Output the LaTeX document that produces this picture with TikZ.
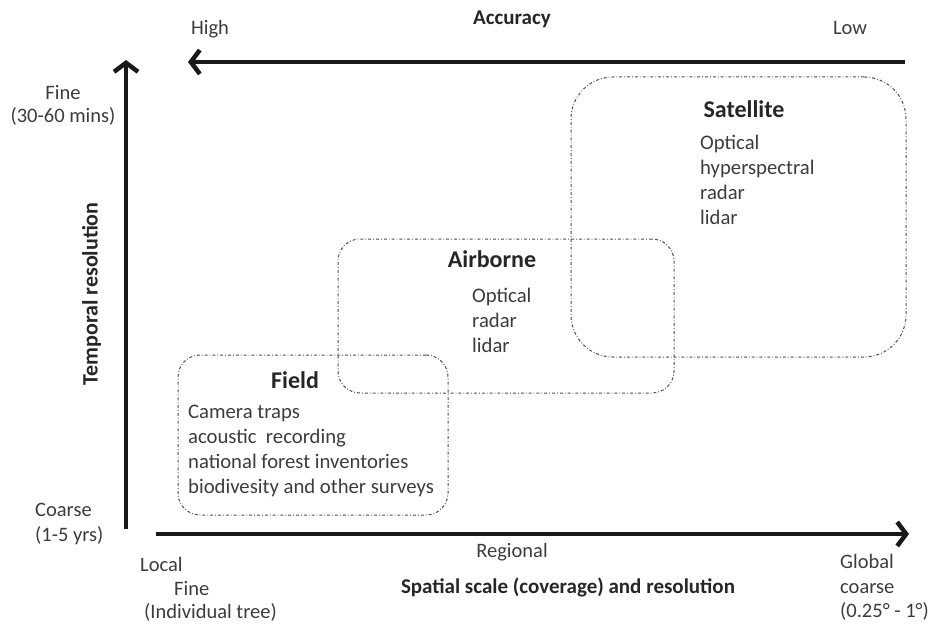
\documentclass[tikz,border=0pt]{standalone}
\usepackage{fontspec}
\setmainfont{Carlito}
\usetikzlibrary{arrows.meta}
\definecolor{txt}{HTML}{3C3C3C}
\definecolor{boxline}{HTML}{505050}
\tikzset{
  lbl/.style={inner sep=0pt, text=txt, font=\fontsize{20.5}{24}\selectfont, text height=16pt, text depth=3pt},
  item/.style={inner sep=0pt, text=txt, font=\fontsize{20.7}{24}\selectfont, text height=16pt, text depth=3pt, anchor=west},
  head/.style={inner sep=0pt, text=black!85, font=\bfseries\fontsize{24}{28}\selectfont, text height=18pt, text depth=3pt},
  axtitle/.style={inner sep=0pt, text=black!85, font=\bfseries\fontsize{21}{24}\selectfont, text height=16pt, text depth=3pt},
  bigarrow/.style={line width=4.5pt, black!90, -{Straight Barb[length=9pt,width=24pt,line width=4.5pt]}},
  zone/.style={draw=boxline, line width=1pt, dash pattern=on 3pt off 2pt on 0.8pt off 2pt, minimum width=#1, inner sep=0pt},
}
\begin{document}
\begin{tikzpicture}[x=1pt,y=1pt]
\useasboundingbox (0,0) rectangle (932,-626);
% zones
\node[zone=335pt, minimum height=280pt, rounded corners=42pt] (sat) at (738.5,-217) {};
\node[zone=336pt, minimum height=154pt, rounded corners=22pt] (air) at (506,-316) {};
\node[zone=270pt, minimum height=160pt, rounded corners=22pt] (fld) at (313,-435) {};
% axes
\coordinate (accS) at (905,-62);
\coordinate (accE) at (188,-62);
\draw[bigarrow] (accS) -- (accE);
\coordinate (tS) at (126,-529);
\coordinate (tE) at (126,-60);
\draw[bigarrow] (tS) -- (tE);
\coordinate (sS) at (156,-534);
\coordinate (sE) at (909,-534);
\draw[bigarrow] (sS) -- (sE);
% top labels
\node[lbl] (high) at (210,-28) {High};
\node[axtitle] (acc) at (512,-18) {Accuracy};
\node[lbl] (low) at (850,-28) {Low};
% left labels
\node[lbl] (fine1) at (63,-93) {Fine};
\node[lbl] (fine2) at (63,-116) {(30-60 mins)};
\node[axtitle, rotate=90, font=\bfseries\fontsize{22}{24}\selectfont] (temp) at (91,-294) {Temporal resolution};
\node[lbl, anchor=west] (coarse1) at (35,-510) {Coarse};
\node[lbl, anchor=west] (coarse2) at (35,-535) {(1-5 yrs)};
% bottom labels
\node[lbl, anchor=west] (local) at (140,-565) {Local};
\node[lbl, anchor=west] (fine3) at (174,-589) {Fine};
\node[lbl, anchor=west] (indiv) at (144,-612) {(Individual tree)};
\node[lbl] (regional) at (512,-551) {Regional};
\node[axtitle] (spatial) at (568,-587) {Spatial scale (coverage) and resolution};
\node[lbl, anchor=west] (global) at (840,-562) {Global};
\node[lbl, anchor=west] (coarse3) at (840,-587) {coarse};
\node[lbl, anchor=west] (deg) at (840,-611) {(0.25° - 1°)};
% satellite
\node[head] (sath) at (744,-110) {Satellite};
\node[item] (s1) at (700,-143) {Optical};
\node[item] (s2) at (700,-168) {hyperspectral};
\node[item] (s3) at (700,-193) {radar};
\node[item] (s4) at (700,-218) {lidar};
% airborne
\node[head] (airh) at (492,-260) {Airborne};
\node[item] (a1) at (472,-296) {Optical};
\node[item] (a2) at (472,-321) {radar};
\node[item] (a3) at (472,-346) {lidar};
% field
\node[head] (fldh) at (295,-381) {Field};
\node[item] (f1) at (188,-412) {Camera traps};
\node[item] (f2) at (188,-437) {acoustic\ \ recording};
\node[item] (f3) at (188,-462) {national forest inventories};
\node[item] (f4) at (188,-487) {biodivesity and other surveys};
\end{tikzpicture}
\end{document}
